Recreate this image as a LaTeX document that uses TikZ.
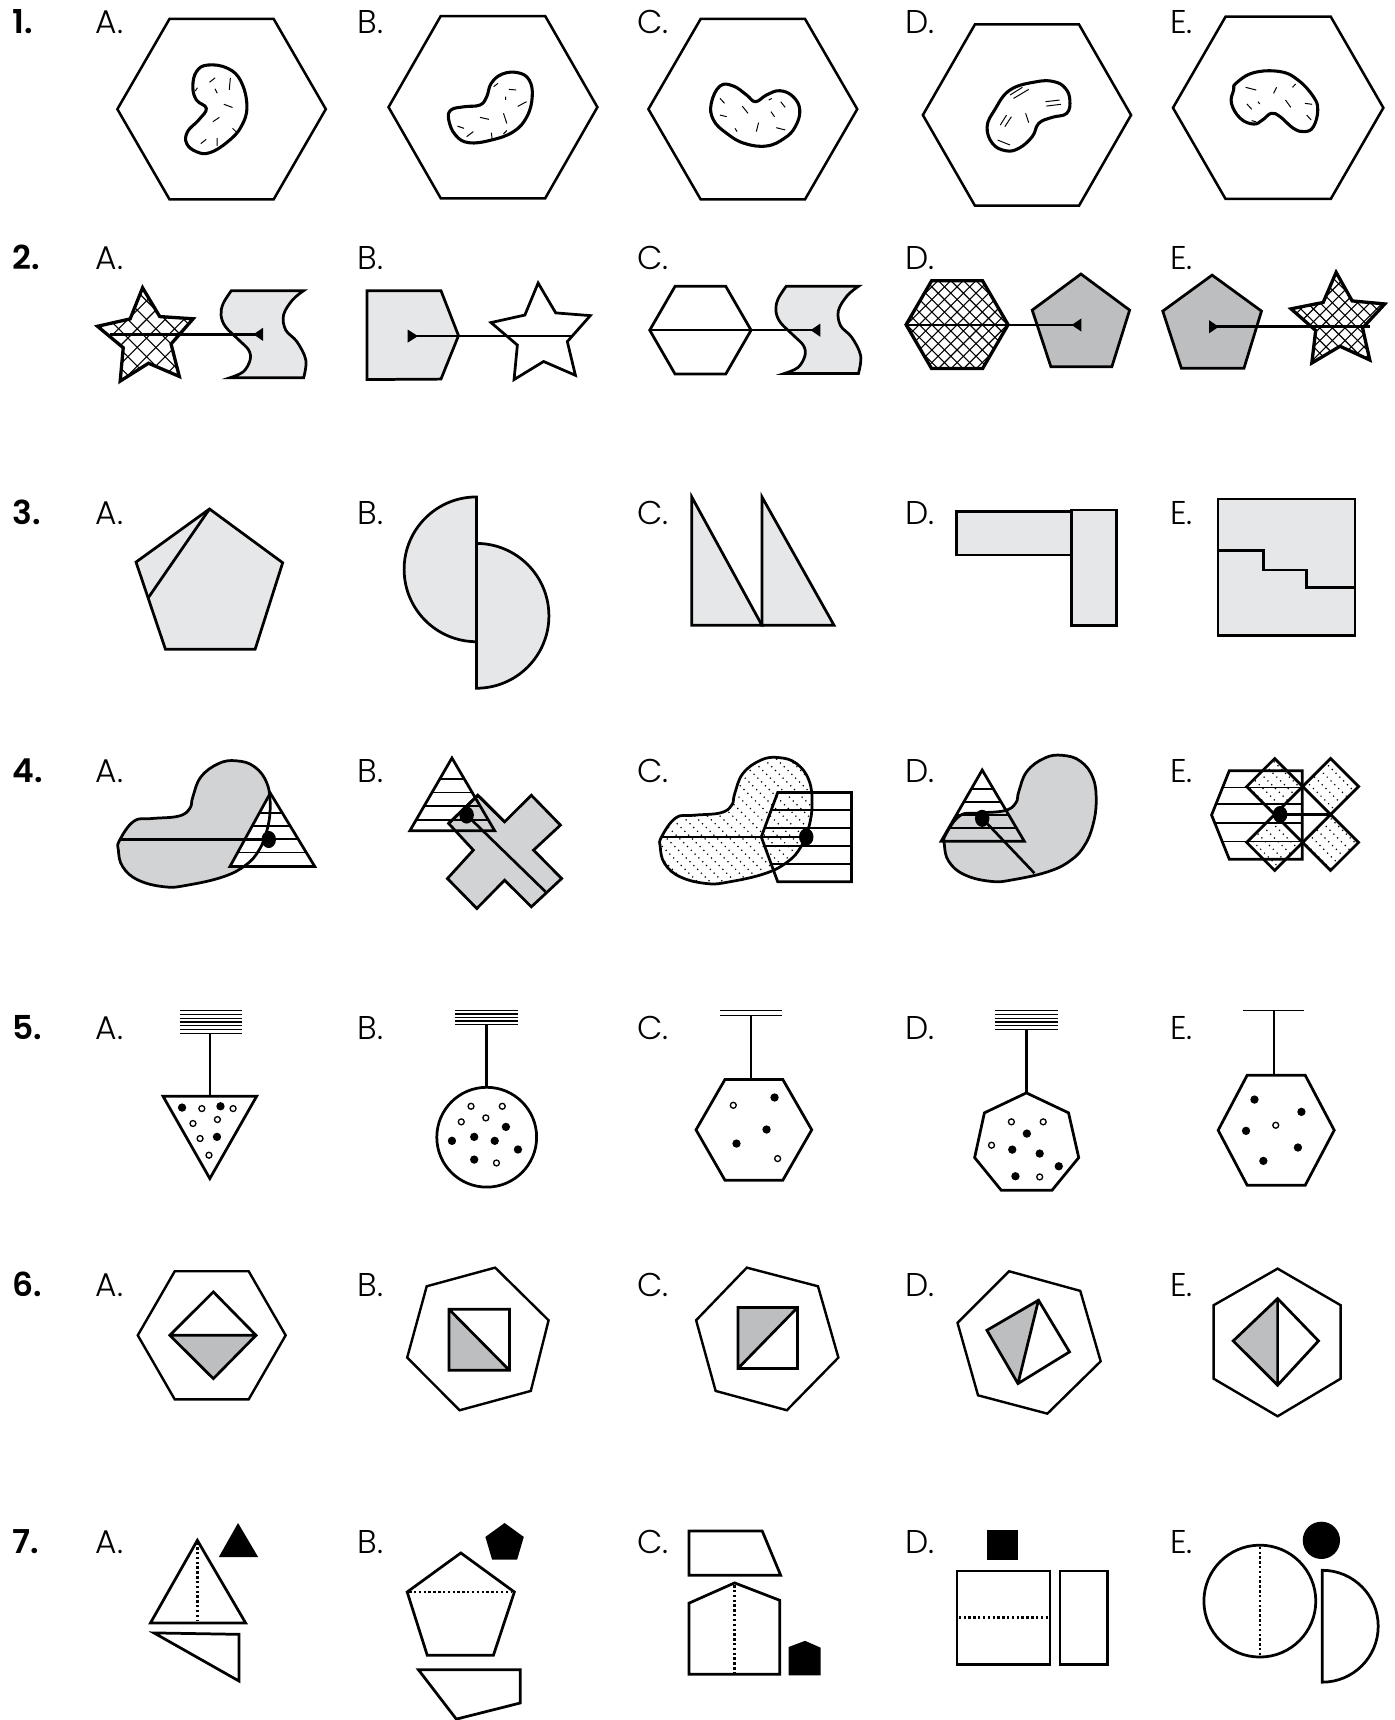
\documentclass[tikz,border=0pt]{standalone}
\usepackage{fontspec}
\setmainfont{Poppins}[UprightFont=* Light, BoldFont=* SemiBold]
\definecolor{lg}{HTML}{E6E7E8}
\definecolor{mg}{HTML}{D1D3D4}
\definecolor{dg}{HTML}{BCBEC0}
\newcommand{\hexF}[4]{({#1-#3},{#2}) -- ({#1-#3/2},{#2-#4}) -- ({#1+#3/2},{#2-#4}) -- ({#1+#3},{#2}) -- ({#1+#3/2},{#2+#4}) -- ({#1-#3/2},{#2+#4}) -- cycle}
\newcommand{\starP}[5]{plot[samples at={0,...,9}, variable=\q] ({#1+ifthenelse(mod(\q,2)==0,#3,#4)*cos(90+#5+36*\q)}, {#2-ifthenelse(mod(\q,2)==0,#3,#4)*sin(90+#5+36*\q)}) -- cycle}
\newcommand{\xhatch}[4]{\foreach \i in {-12,...,12}{\draw[hatchl] ({#1+\i*#4-#3},{#2-#3}) -- ({#1+\i*#4+#3},{#2+#3}); \draw[hatchl] ({#1+\i*#4+#3},{#2-#3}) -- ({#1+\i*#4-#3},{#2+#3});}}
\newcommand{\dhatch}[4]{\foreach \i in {-16,...,16}{\draw[dotl] ({#1+\i*#4-#3},{#2-#3}) -- ({#1+\i*#4+#3},{#2+#3});}}
\newcommand{\hstripes}[3]{\foreach \yy in {#3}{\draw[stripe] (#1,\yy) -- (#2,\yy);}}
\newcommand{\kidney}{plot[smooth cycle, tension=0.7] coordinates {(109.1,765.9) (122.1,748.6) (138.4,746.2) (162.8,744) (173,737) (175.8,726.4) (183.2,708.2) (199.5,696) (215.7,693.6) (232,699) (243.4,714.2) (246.3,735.5) (243.4,756.8) (236.1,775) (223.9,788.7) (203.5,799.3) (171,806.9) (150.6,808.5) (126.2,802.4) (111.9,790.2) (107.9,775)}}
\newcommand{\sshape}{(210.9,265) -- plot[smooth, tension=0.6] coordinates {(276.8,265) (266.6,273.5) (258.5,287.2) (260.5,300.9) (270.7,311.5) (278.8,328.2) (276.8,344.4)} -- plot[smooth, tension=0.6] coordinates {(209.6,344.4) (221.8,338.9) (228,328.2) (226.7,319.1) (217.8,310) (205.6,297.9) (201.5,287.2) (203.5,276.6) (210.9,265)} -- cycle}
\newcommand{\fdt}[2]{\fill (#1,#2) circle[radius=1.9pt];}
\newcommand{\odt}[2]{\draw[line width=0.6pt] (#1,#2) circle[radius=1.35pt];}
\begin{document}
\begin{tikzpicture}[x=0.5pt,y=-0.5pt,line join=miter,
 lab/.style={anchor=base west,inner sep=0pt,font=\fontsize{15}{18}\selectfont},
 num/.style={anchor=base west,inner sep=0pt,font=\fontsize{15}{18}\selectfont\bfseries},
 hexo/.style={line width=1.15pt},
 blobl/.style={line width=1.4pt},
 texl/.style={line width=0.45pt},
 shp/.style={line width=1.25pt},
 thk/.style={line width=1.5pt},
 conn/.style={line width=1.2pt},
 stripe/.style={line width=0.75pt},
 hatchl/.style={line width=0.5pt},
 dotl/.style={line width=0.55pt,dash pattern=on 0.55pt off 1.9pt},
 ceil/.style={line width=0.55pt},
 fold/.style={line width=1.1pt,dash pattern=on 1.1pt off 1.1pt},
 thin6/.style={line width=1.1pt}]
\useasboundingbox (0,0) rectangle (1271,1568);
\fill[white] (0,0) rectangle (1271,1568);
% labels
\foreach \r/\yb in {1/30.5,2/245.5,3/478.5,4/713.5,5/947.5,6/1181.5,7/1416.5}{
 \node[num] (n\r) at (11,\yb) {\r.};
 \node[lab] (a\r) at (87,\yb) {A.};
 \node[lab] (b\r) at (325.5,\yb) {B.};
 \node[lab] (c\r) at (580.5,\yb) {C.};
 \node[lab] (d\r) at (825,\yb) {D.};
 \node[lab] (e\r) at (1066.5,\yb) {E.};
}
% ---------- Row 1
\draw[hexo] \hexF{202}{99.5}{95}{82.2};
\draw[hexo] \hexF{449.4}{97.7}{95.2}{83.1};
\draw[hexo] \hexF{686.3}{99.5}{95.2}{82.2};
\draw[hexo] \hexF{936.2}{104.9}{94.9}{82.6};
\draw[hexo] \hexF{1165.2}{98.3}{95.9}{83.1};
\draw[blobl] plot[smooth cycle, tension=0.7] coordinates {(189.3,59.3) (207.6,62.3) (219.8,74.5) (225.1,97.3) (219.8,115.5) (207.6,129.2) (191.3,139.2) (179.1,138.3) (170.1,130.7) (171,120) (181.1,109.4) (188.1,98.8) (179.1,91.2) (175.8,79) (179.1,65.3)};
\draw[texl] (191,75)--(196,71) (210,71)--(209,82) (196,81)--(198,85) (204,95)--(212,98) (194,111)--(200,107) (212,117)--(215,120) (183,131)--(188,127) (198,126)--(198,133) (178,83)--(180,80);
\draw[blobl] plot[smooth cycle, tension=0.7] coordinates {(447.8,76) (457.9,67.5) (472.2,66.3) (482.4,72.9) (485.2,88.1) (480.3,106.4) (468.1,120) (447.8,127.7) (427.4,130.1) (415.2,123.1) (409.1,109.4) (411.1,100.3) (423.3,97.3) (437.6,95.7) (443.7,88.1)};
\draw[texl] (450,79)--(454,76) (464,81.5)--(470.5,82) (461,88)--(461,91) (472,97)--(480,92.7) (437.6,107)--(445.7,108.8) (459,103.3)--(462,112.5) (417,115)--(423,117) (425.4,124.6)--(431.5,120) (448,121)--(448.5,126) (459,122)--(462,119);
\draw[blobl] plot[smooth cycle, tension=0.7] coordinates {(656.4,78.4) (668.5,78.4) (680.6,86.6) (688.7,92.7) (698.8,86.6) (710.9,82.7) (723,88.1) (729.1,100.3) (725,115.5) (715,126.1) (698.8,133.1) (678.6,130.7) (662.5,121.6) (650.4,109.4) (648.4,94.2)};
\draw[texl] (656.4,89.7)--(660.5,94.2) (676.6,96.7)--(681.9,103.3) (702.8,101.8)--(706.1,106.4) (711.7,92.7)--(715.8,97.9) (656.4,104.9)--(662.5,106.4) (691.5,111.8)--(689.5,120) (707.7,116.4)--(715.8,118.5) (700.8,91.2)--(703.6,89.7) (670,117)--(672,120);
\draw[blobl] plot[smooth cycle, tension=0.7] coordinates {(906.7,100.3) (920.8,82) (945,74.5) (961.1,74.5) (971.2,80.5) (975.3,91.2) (972.5,103.3) (959.1,107) (947,112.4) (941,124.6) (928.8,135.2) (916.7,137.4) (904.7,130.7) (899.9,115.5)};
\draw[texl] (920.8,86.6)--(932.1,79.6) (924,89.7)--(937.8,81.5) (953.1,92.7)--(966,91.2) (953.9,96.7)--(967.2,95.1) (911.9,114)--(917.6,104.9) (916,115.5)--(922,106.4) (935,103.3)--(937.8,111.8) (909.5,127.7)--(920.8,132.2) (906,101)--(908,98);
\draw[blobl] plot[smooth cycle, tension=0.7] coordinates {(1126.7,76) (1142.8,66.3) (1167,65.3) (1183.2,72.9) (1197.3,88.1) (1201.3,100.3) (1197.3,115.5) (1189.2,120) (1179.1,117) (1167,106.4) (1159,103.3) (1150.9,109.4) (1142.8,113.1) (1130.7,107.9) (1122.6,94.2) (1124.6,82.1)};
\draw[texl] (1135.5,79.6)--(1145.2,82.1) (1161,85.1)--(1163.8,79.6) (1178.3,79.6)--(1181.1,76.6) (1136.7,94.8)--(1141.2,99.7) (1146.8,92.7)--(1148.4,94.8) (1171.9,91.2)--(1176.7,97.9) (1189.6,94.2)--(1196.1,95.1) (1191.2,104.9)--(1195.3,109.4) (1141,110)--(1145,111);
% ---------- Row 2
% A
\begin{scope}\clip \starP{133.6}{308.2}{46}{23}{4.5}; \xhatch{133.6}{308.2}{60}{17}\end{scope}
\draw[thk] \starP{133.6}{308.2}{46}{23}{4.5};
\filldraw[shp,fill=lg] \sshape;
\draw[conn] (100,304.8) -- (239.3,304.8);
\fill (231,304.8) -- (239.8,298.8) -- (239.8,310.8) -- cycle;
% B
\filldraw[shp,fill=lg] (334.5,265) -- (402,265) -- (418,306) -- (402,345.6) -- (334.5,346) -- cycle;
\draw[shp] \starP{493.9}{305.6}{47.7}{24}{4};
\draw[conn] (372,306.4) -- (521,306.4);
\fill (381,306.4) -- (371.6,300.4) -- (371.6,312.4) -- cycle;
% C
\draw[shp] \hexF{638.5}{301}{46.2}{40};
\begin{scope}[shift={(505.8,-4)}]\filldraw[shp,fill=lg] \sshape;\end{scope}
\draw[conn] (592.3,301) -- (747,301);
\fill (739,301) -- (747.8,295) -- (747.8,307) -- cycle;
% D
\begin{scope}\clip \hexF{872.5}{296}{46.5}{40}; \xhatch{872.5}{296}{60}{11.5}\end{scope}
\draw[thk] \hexF{872.5}{296}{46.5}{40};
\filldraw[shp,fill=dg] (985.4,249.8) -- (1029.8,282.7) -- (1013.6,334.3) -- (958,334.3) -- (941,282.7) -- cycle;
\draw[conn] (826,296.3) -- (985.4,296.3);
\fill (977,296.3) -- (985.8,290.3) -- (985.8,302.3) -- cycle;
% E
\filldraw[shp,fill=dg] (1105,250.8) -- (1150,283.6) -- (1134,335.8) -- (1077,335.8) -- (1060,283.6) -- cycle;
\begin{scope}\clip \starP{1220.4}{293.2}{45}{22.5}{3}; \xhatch{1220.4}{293.2}{60}{11.5}\end{scope}
\draw[thk] \starP{1220.4}{293.2}{45}{22.5}{3};
\draw[conn] (1102.5,297.9) -- (1249,297.9);
\fill (1111,297.9) -- (1102.2,291.9) -- (1102.2,303.9) -- cycle;
% ---------- Row 3
\filldraw[shp,fill=lg] (191,464) -- (257.7,513) -- (232.6,591.8) -- (150.8,591.8) -- (124,512.4) -- cycle;
\draw[shp] (191,464) -- (135.4,544.6);
\filldraw[shp,fill=lg] (434.4,453) arc[start angle=90,end angle=270,radius=33pt] -- cycle;
\filldraw[shp,fill=lg] (434.4,495.4) arc[start angle=90,end angle=-90,radius=33pt] -- cycle;
\filldraw[shp,fill=lg] (630.6,453) -- (694.6,570) -- (630.6,570) -- cycle;
\filldraw[shp,fill=lg] (694.6,453) -- (760.3,570) -- (694.6,570) -- cycle;
\filldraw[shp,fill=lg] (872,466) rectangle (976.6,506);
\filldraw[shp,fill=lg] (976.6,465) rectangle (1018,570);
\filldraw[shp,fill=lg] (1110.4,455) rectangle (1235.2,579.6);
\draw[shp] (1110.4,502) -- (1151.7,502) -- (1151.7,519.7) -- (1191,519.7) -- (1191,535.8) -- (1235.2,535.8);
% ---------- Row 4
% A
\fill[mg] \kidney;
\fill[white] (246.4,723) -- (287,790) -- (209.6,790) -- cycle;
\begin{scope}\clip (246.4,723) -- (287,790) -- (209.6,790) -- cycle; \hstripes{200}{300}{741,753,765,777}\end{scope}
\draw[shp] (246.4,723) -- (287,790) -- (209.6,790) -- cycle;
\draw[shp] \kidney;
\draw[conn] (108.5,765.3) -- (245,765.3);
\fill (245,765.3) ellipse[x radius=3.3pt,y radius=3.9pt];
% B
\filldraw[shp,fill=mg] (409,750.7) -- (435.6,725) -- (460,749.2) -- (484.4,725) -- (510.9,752.2) -- (486.4,775) -- (512,800.9) -- (484.4,826.7) -- (460,802.4) -- (434.7,828.2) -- (407.9,800.9) -- (431.5,775) -- cycle;
\begin{scope}\clip (412,691) -- (451,757.4) -- (373.6,757.4) -- cycle; \hstripes{360}{470}{710,722.5,735,747.5}\end{scope}
\draw[shp] (412,691) -- (451,757.4) -- (373.6,757.4) -- cycle;
\draw[shp] (409,750.7) -- (435.6,725) -- (460,749.2);
\draw[conn] (425.4,743) -- (497.4,813);
\fill (425.4,743) ellipse[x radius=3.3pt,y radius=3.9pt];
% C
\begin{scope}[shift={(494,-3)}]
 \begin{scope}\clip \kidney; \dhatch{177}{750}{90}{11.5}\end{scope}
\end{scope}
\begin{scope}\clip (709,722.4) -- (776.3,722.4) -- (776.3,803.9) -- (709,803.9) -- (694,763) -- cycle; \hstripes{690}{780}{738.7,755,771.3,787.6}\end{scope}
\begin{scope}[shift={(494,-3)}]\draw[shp] \kidney;\end{scope}
\draw[shp] (709,722.4) -- (776.3,722.4) -- (776.3,803.9) -- (709,803.9) -- (694,763) -- cycle;
\draw[conn] (602.5,763) -- (735,763);
\fill (735,763) ellipse[x radius=3.3pt,y radius=3.9pt];
% D
\begin{scope}[shift={(753,-5)}]\fill[mg] \kidney;\end{scope}
\begin{scope}\clip (895.4,702) -- (933.7,766.8) -- (858,766.8) -- cycle; \hstripes{850}{940}{719,731,743,755}\end{scope}
\draw[shp] (895.4,702) -- (933.7,766.8) -- (858,766.8) -- cycle;
\begin{scope}[shift={(753,-5)}]\draw[shp] \kidney;\end{scope}
\draw[conn] (895.4,746) -- (943,796);
\fill (895.4,746) ellipse[x radius=3.3pt,y radius=3.9pt];
% E
\begin{scope}\clip (1162,691.5) -- (1187.5,717) -- (1162,742.5) -- (1136.5,717) -- cycle (1213,691.5) -- (1238.5,717) -- (1213,742.5) -- (1187.5,717) -- cycle (1213,742.5) -- (1238.5,768) -- (1213,793.5) -- (1187.5,768) -- cycle (1162,742.5) -- (1187.5,768) -- (1162,793.5) -- (1136.5,768) -- cycle; \dhatch{1187}{743}{80}{11.5}\end{scope}
\begin{scope}\clip (1120.6,702.7) -- (1187.2,702.7) -- (1187.2,783.2) -- (1120.6,783.2) -- (1104.5,743) -- cycle; \hstripes{1100}{1190}{718,733,750,767}\end{scope}
\draw[shp] (1120.6,702.7) -- (1187.2,702.7) -- (1187.2,783.2) -- (1120.6,783.2) -- (1104.5,743) -- cycle;
\draw[shp] (1162,691.5) -- (1187.5,717) -- (1162,742.5) -- (1136.5,717) -- cycle;
\draw[shp] (1213,691.5) -- (1238.5,717) -- (1213,742.5) -- (1187.5,717) -- cycle;
\draw[shp] (1213,742.5) -- (1238.5,768) -- (1213,793.5) -- (1187.5,768) -- cycle;
\draw[shp] (1162,742.5) -- (1187.5,768) -- (1162,793.5) -- (1136.5,768) -- cycle;
\draw[conn] (1167,742.5) -- (1213,742.5);
\fill (1167,742.5) ellipse[x radius=3.3pt,y radius=3.9pt];
% ---------- Row 5
% A
\foreach \yy in {921.5,924.9,928.3,931.7,935.1,938.5,942}{\draw[ceil] (163.7,\yy) -- (220.6,\yy);}
\draw[conn] (191.3,942) -- (191.3,999.3);
\draw[shp] (148.6,999.3) -- (234,999.3) -- (191.3,1074.4) -- cycle;
\fdt{166}{1009.7}\odt{184}{1010.6}\fdt{201}{1008.5}\odt{212.5}{1010.6}\odt{175.9}{1024.2}\odt{198.2}{1020.6}\odt{182.4}{1037.9}\fdt{197.8}{1036.4}\odt{190.5}{1053.1}
% B
\foreach \yy in {921,924.3,927.6,930.8,934}{\draw[ceil] (415.2,\yy) -- (472.2,\yy);}
\draw[conn] (443.7,934) -- (443.7,991.4);
\draw[shp] (443.7,1036.7) circle[radius=22.75pt];
\odt{429.4}{1008.5}\odt{457.9}{1008.5}\odt{420.5}{1022.7}\odt{442.9}{1019.1}\fdt{461.2}{1027.3}\fdt{412}{1040}\fdt{432.3}{1036.4}\fdt{451}{1040}\fdt{472.2}{1047.9}\fdt{432.3}{1057.1}\odt{452.6}{1060.2}
% C
\foreach \yy in {921.5,925.5}{\draw[ceil] (656.4,\yy) -- (712.9,\yy);}
\draw[conn] (684.7,925.5) -- (684.7,984.1);
\draw[shp] \hexF{687.25}{1030}{52.75}{45.9};
\odt{668.5}{1007.6}\fdt{706.1}{1000.5}\fdt{698.8}{1029.7}\fdt{671.4}{1042.5}\odt{708.9}{1056.2}
% D
\foreach \yy in {921.5,924.9,928.2,931.6,934.9,938.3}{\draw[ceil] (906.7,\yy) -- (964.4,\yy);}
\draw[conn] (935.7,938.3) -- (935.7,996.3);
\draw[shp] (935.7,996.3) -- (974.1,1014.5) -- (983.4,1055.3) -- (959.1,1085) -- (912.7,1085) -- (888.5,1055.3) -- (897.4,1014.5) -- cycle;
\odt{922}{1022.7}\odt{951}{1022.7}\fdt{936.1}{1033.4}\odt{903.9}{1044}\fdt{922.8}{1048}\fdt{947.8}{1051.6}\fdt{965.2}{1063.2}\fdt{925.7}{1072.3}\odt{947.8}{1072.9}
% E
\draw[ceil] (1132.7,921.5) -- (1189.2,921.5);
\draw[conn] (1161.4,921.5) -- (1161.4,980.2);
\draw[shp] \hexF{1163.4}{1030.35}{52.9}{50.15};
\fdt{1143.6}{1002.4}\fdt{1186.4}{1013.6}\fdt{1135.9}{1030.9}\odt{1163}{1025.8}\fdt{1183.2}{1046.1}\fdt{1151.7}{1058.3}
% ---------- Row 6
% A
\draw[thin6] \hexF{193}{1217.3}{67.4}{58.4};
\fill[dg] (154.8,1217.3) -- (233.4,1217.3) -- (194.5,1256.8) -- cycle;
\draw[shp] (194.5,1177.7) -- (233.4,1217.3) -- (194.5,1256.8) -- (154.8,1217.3) -- cycle (154.8,1217.3) -- (233.4,1217.3);
% B
\draw[thin6] (389,1172.6) -- (451.4,1155.6) -- (500.1,1203.6) -- (483.9,1268) -- (419,1285.6) -- (371.2,1237.6) -- cycle;
\fill[dg] (409.3,1193.5) -- (464.4,1249.2) -- (409.3,1249.2) -- cycle;
\draw[shp] (409.3,1193.5) rectangle (464.4,1249.2) (409.3,1193.5) -- (464.4,1249.2);
% C
\draw[thin6] (634.6,1203.6) -- (680.8,1155.6) -- (745.7,1172.6) -- (764.3,1237.6) -- (717.3,1285.6) -- (652.4,1268) -- cycle;
\fill[dg] (672.7,1192) -- (727,1192) -- (672.7,1247.6) -- cycle;
\draw[shp] (672.7,1192) rectangle (727,1247.6) (672.7,1247.6) -- (727,1192);
% D
\draw[thin6] (919.9,1158.9) -- (984.8,1176.8) -- (1003.4,1241) -- (954.8,1288.7) -- (891.6,1272) -- (872.9,1206) -- cycle;
\fill[dg] (946.7,1185.3) -- (899.7,1212.7) -- (928,1261.3) -- cycle;
\draw[shp] (946.7,1185.3) -- (975,1232.4) -- (928,1261.3) -- (899.7,1212.7) -- cycle (946.7,1185.3) -- (928,1261.3);
% E
\draw[thin6] (1164.7,1156.5) -- (1222.2,1189.9) -- (1222.2,1256.8) -- (1164.7,1291.1) -- (1106.3,1256.8) -- (1106.3,1189.9) -- cycle;
\fill[dg] (1164.7,1183.8) -- (1124.2,1222.4) -- (1164.7,1262.8) -- cycle;
\draw[shp] (1164.7,1183.8) -- (1202,1222.4) -- (1164.7,1262.8) -- (1124.2,1222.4) -- cycle (1164.7,1183.8) -- (1164.7,1262.8);
% ---------- Row 7
% A
\fill (217,1388.4) -- (235.3,1419.4) -- (199.5,1419.4) -- cycle;
\draw[shp] (179.9,1404.2) -- (223.9,1479.5) -- (137.2,1479.5) -- cycle;
\draw[fold] (179.9,1406) -- (179.9,1478);
\draw[shp] (140.4,1488.6) -- (217.8,1489.9) -- (217.8,1532.4) -- cycle;
% B
\fill (460,1388.4) -- (477.5,1401.1) -- (471.4,1421.8) -- (448.6,1421.8) -- (442.5,1401.1) -- cycle;
\draw[shp] (420.1,1415.7) -- (468.9,1451.3) -- (449.8,1509) -- (389.5,1509) -- (371.2,1451.3) -- cycle;
\draw[fold] (373,1451.3) -- (467,1451.3);
\draw[shp] (381.4,1522.1) -- (474.2,1522.1) -- (474.2,1552.5) -- (416,1567.2) -- cycle;
% C
\draw[shp] (628,1395.6) -- (694.8,1395.6) -- (711.7,1436.1) -- (628,1436.1) -- cycle;
\draw[shp] (628,1526.3) -- (628,1461.5) -- (669.7,1443) -- (710.9,1458.9) -- (710.9,1526.3) -- cycle;
\draw[fold] (669.7,1445) -- (669.7,1525);
\fill (719,1501.4) -- (733.9,1495.8) -- (748,1502) -- (748,1527.2) -- (719,1527.2) -- cycle;
% D
\fill (899.8,1394.4) rectangle (927.7,1422.4);
\draw[shp] (872.4,1432.1) rectangle (957.1,1517.2);
\draw[fold] (874,1474.7) -- (955.5,1474.7);
\draw[shp] (966.4,1432.1) rectangle (1009.6,1517.2);
% E
\fill (1204.6,1404.2) circle[radius=8.5pt];
\draw[shp] (1148.5,1459.6) circle[radius=25.5pt];
\draw[fold] (1148.5,1410) -- (1148.5,1509);
\draw[shp] (1205.4,1431.5) arc[start angle=90,end angle=-90,radius=25.5pt] -- cycle;
\end{tikzpicture}
\end{document}
